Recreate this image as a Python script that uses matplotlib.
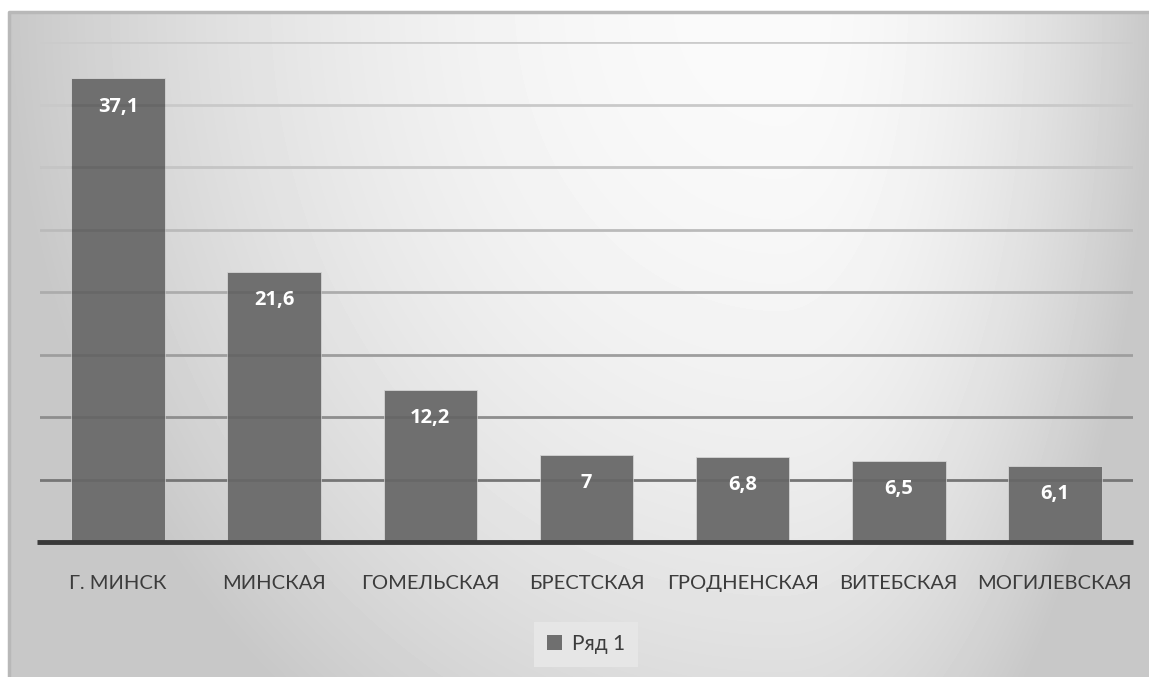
import numpy as np
import matplotlib.pyplot as plt

# Data
regions = ["Г. МИНСК", "МИНСКАЯ", "ГОМЕЛЬСКАЯ", "БРЕСТСКАЯ",
           "ГРОДНЕНСКАЯ", "ВИТЕБСКАЯ", "МОГИЛЕВСКАЯ"]
shares = [37.1, 21.6, 12.2, 7, 6.8, 6.5, 6.1]
series_name = "Ряд 1"
grid_levels = [5, 10, 15, 20, 25, 30, 35, 40]

W, H = 1149, 677
fig = plt.figure(figsize=(W / 100, H / 100), dpi=100)
fig.patch.set_facecolor("white")

# Chart area background: soft path gradient, brightest near the top right
bg_ax = fig.add_axes([9 / W, 0, (W - 9) / W, (H - 12) / H])
bg_ax.set_axis_off()
xx, yy = np.meshgrid(np.arange(9, W), np.arange(12, H))
cx = 780
dx = np.where(xx < cx, (xx - cx) / 770, (xx - cx) / 370)
dy = yy / 900
t2 = np.clip(dx ** 2 + dy ** 2, 0, 1)
shade = (250 - 50 * t2) / 255
bg_ax.imshow(shade, cmap="gray", vmin=0, vmax=1, aspect="auto",
             extent=[0, 1, 0, 1], interpolation="bilinear")
bg_ax.plot([0, 0, 1], [0, 1, 1], color="#b8b8b8", lw=2.5,
           transform=bg_ax.transAxes, clip_on=False)

# Plot area
ax = fig.add_axes([40 / W, 135 / H, 1093 / W, 500 / H])
ax.set_facecolor("none")
x = np.arange(len(regions))
ax.set_xlim(-0.5, len(regions) - 0.5)
ax.set_ylim(0, 40)

# gridlines get darker toward the baseline
grid_grays = [0.50, 0.60, 0.67, 0.73, 0.79, 0.83, 0.85, 0.86]
for lvl, g in zip(grid_levels, grid_grays):
    ax.axhline(lvl, color=str(g), lw=2.0, zorder=1)
    ax.axhline(lvl, color="black", lw=2.0, alpha=0.07, zorder=3)

bars = ax.bar(x, shares, width=0.6, color="#6f6f6f", zorder=2,
              edgecolor="#d4d4d4", linewidth=0.6, label=series_name)
ax.plot([-0.52, len(regions) - 0.5], [0, 0], color="#3a3a3a", lw=3.5,
        solid_capstyle="butt", zorder=4, clip_on=False)

for xi, v in zip(x, shares):
    lbl = f"{v:g}".replace(".", ",")
    ax.annotate(lbl, (xi, v), xytext=(0, -20.5), textcoords="offset points",
                ha="center", va="center", color="white", fontsize=14.5,
                fontweight="bold", family="Open Sans", zorder=5)

for s in ax.spines.values():
    s.set_visible(False)
ax.set_yticks([])
ax.set_xticks(x)
ax.set_xticklabels(regions, family="Lato", fontsize=14.5, color="#3c3c3c")
ax.tick_params(axis="x", length=0, pad=24)

leg = ax.legend(loc="center", bbox_to_anchor=(586 / W, (H - 644) / H),
                bbox_transform=fig.transFigure, frameon=True, fancybox=False,
                prop={"family": "Lato", "size": 15}, handlelength=0.7,
                handleheight=0.7, handletextpad=0.5, borderpad=0.6,
                labelcolor="#3c3c3c")
leg.get_frame().set_facecolor("#e6e6e6")
leg.get_frame().set_edgecolor("none")
leg.get_frame().set_alpha(1)
leg.legend_handles[0].set_edgecolor("none")

fig.savefig("out.png", dpi=100, facecolor="white")
